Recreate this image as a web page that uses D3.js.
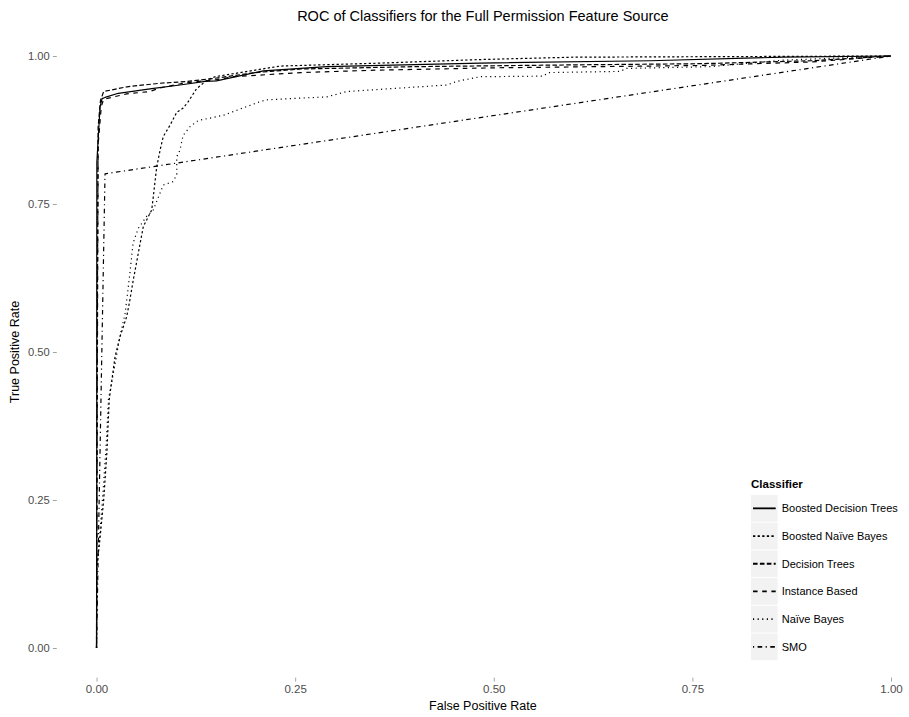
<!DOCTYPE html>
<html>
<head>
<meta charset="utf-8">
<script src="https://cdn.jsdelivr.net/npm/d3@7"></script>
<style>
  html, body { margin: 0; padding: 0; background: #fff; }
  svg { display: block; font-family: "Liberation Sans", Arial, Helvetica, sans-serif; }
</style>
</head>
<body>
<svg id="chart" width="909" height="717"></svg>
<script>
// ROC points (false positive rate, true positive rate) per classifier
const boostedDecisionTrees = [
  [0, 0], [0.0003, 0.30], [0.0003, 0.60], [0.0004, 0.82], [0.0044, 0.914], [0.007, 0.928],
  [0.0107, 0.930], [0.0274, 0.937], [0.0695, 0.945], [0.105, 0.951], [0.137, 0.957],
  [0.151, 0.958], [0.21, 0.975], [0.29, 0.982], [0.483, 0.988], [0.697, 0.992],
  [0.864, 0.998], [1, 1]
];
const boostedNaiveBayes = [
  [0, 0], [0.0005, 0.14], [0.004, 0.18], [0.009, 0.25], [0.013, 0.33], [0.016, 0.42],
  [0.0233, 0.492], [0.0296, 0.526], [0.038, 0.560], [0.042, 0.588], [0.0463, 0.622],
  [0.0526, 0.667], [0.0589, 0.712], [0.0695, 0.740], [0.0758, 0.813], [0.080, 0.841],
  [0.084, 0.864], [0.0925, 0.883], [0.101, 0.905], [0.109, 0.912], [0.1155, 0.923],
  [0.126, 0.945], [0.139, 0.959], [0.149, 0.965], [0.231, 0.983], [0.357, 0.988],
  [0.483, 0.994], [0.60, 0.998], [0.80, 0.999], [1, 1]
];
const decisionTrees = [
  [0, 0], [0.0008, 0.50], [0.002, 0.88], [0.005, 0.925], [0.009, 0.940], [0.0385, 0.948],
  [0.08, 0.954], [0.114, 0.957], [0.147, 0.962], [0.20, 0.972], [0.257, 0.978],
  [0.40, 0.982], [0.60, 0.985], [0.76, 0.987], [0.90, 0.992], [1, 1]
];
const instanceBased = [
  [0, 0], [0.0010, 0.45], [0.002, 0.85], [0.006, 0.915], [0.009, 0.927], [0.038, 0.936],
  [0.067, 0.940], [0.080, 0.946], [0.113, 0.955], [0.151, 0.960], [0.172, 0.965],
  [0.257, 0.972], [0.35, 0.976], [0.50, 0.980], [0.76, 0.984], [0.90, 0.990], [1, 1]
];
const naiveBayes = [
  [0, 0], [0.0005, 0.13], [0.004, 0.19], [0.008, 0.26], [0.012, 0.34], [0.015, 0.42],
  [0.022, 0.47], [0.030, 0.53], [0.036, 0.565], [0.042, 0.633], [0.046, 0.684],
  [0.0526, 0.709], [0.063, 0.729], [0.0715, 0.740], [0.078, 0.762], [0.084, 0.782],
  [0.0967, 0.788], [0.101, 0.800], [0.101, 0.830], [0.105, 0.841], [0.109, 0.866],
  [0.118, 0.881], [0.128, 0.891], [0.160, 0.900], [0.206, 0.923], [0.214, 0.926],
  [0.290, 0.931], [0.315, 0.940], [0.441, 0.951], [0.453, 0.957], [0.483, 0.965],
  [0.562, 0.966], [0.569, 0.972], [0.659, 0.974], [0.667, 0.979], [0.772, 0.982],
  [0.864, 0.993], [1, 1]
];
const smo = [[0, 0], [0.0107, 0.801], [1, 1]];

const classifierNames = ["Boosted Decision Trees", "Boosted Naïve Bayes", "Decision Trees",
  "Instance Based", "Naïve Bayes", "SMO"];
const classifierSeries = [boostedDecisionTrees, boostedNaiveBayes, decisionTrees,
  instanceBased, naiveBayes, smo];
const tickValues = [0, 0.25, 0.5, 0.75, 1];
const tickLabels = ["0.00", "0.25", "0.50", "0.75", "1.00"];

// ggplot-style linetypes: solid, 22, 42, 44, 13, 1343 (in line-width units)
const unit = 1.15;
const dashPatterns = [null, [2, 2], [4, 2], [4, 4], [1, 3], [1, 3, 4, 3]]
  .map(p => p ? p.map(v => v * unit).join(",") : null);

const svg = d3.select("#chart");

// Data range padded by 5% on each side, like a default continuous scale
const x = d3.scale = d3.scaleLinear().domain([-0.05, 1.05]).range([56.8, 56.8 + 794.5 * 1.1]);
const y = d3.scaleLinear().domain([-0.05, 1.05]).range([677.6, 677.6 - 592 * 1.1]);

const panelLeft = x(-0.05), panelBottom = y(-0.05), panelTop = y(1.05);
const panelCenterX = (panelLeft + 909) / 2;

// Title
svg.append("text")
  .attr("x", panelCenterX).attr("y", 21)
  .attr("text-anchor", "middle")
  .attr("font-size", 14.5).attr("fill", "#000")
  .text("ROC of Classifiers for the Full Permission Feature Source");

// Axes (tick marks and labels only)
const xAxis = d3.axisBottom(x).tickValues(tickValues)
  .tickFormat((d, i) => tickLabels[i]).tickSize(4).tickPadding(3);
const gx = svg.append("g").attr("transform", `translate(0,${panelBottom})`).call(xAxis);
gx.select(".domain").remove();
gx.selectAll("line").attr("stroke", "#a6a6a6").attr("stroke-width", 1);
gx.selectAll("text").attr("fill", "#4d4d4d").attr("font-size", 11.5)
  .attr("font-family", "Liberation Sans, Arial, sans-serif");

const yAxis = d3.axisLeft(y).tickValues(tickValues)
  .tickFormat((d, i) => tickLabels[i]).tickSize(4).tickPadding(3);
const gy = svg.append("g").attr("transform", `translate(${panelLeft},0)`).call(yAxis);
gy.select(".domain").remove();
gy.selectAll("line").attr("stroke", "#a6a6a6").attr("stroke-width", 1);
gy.selectAll("text").attr("fill", "#4d4d4d").attr("font-size", 11.2)
  .attr("font-family", "Liberation Sans, Arial, sans-serif");

// Axis titles
svg.append("text")
  .attr("x", panelCenterX).attr("y", 710)
  .attr("text-anchor", "middle").attr("font-size", 12.5).attr("fill", "#000")
  .text("False Positive Rate");
svg.append("text")
  .attr("transform", `translate(19,${(panelTop + panelBottom) / 2}) rotate(-90)`)
  .attr("text-anchor", "middle").attr("font-size", 12.5).attr("fill", "#000")
  .text("True Positive Rate");

// ROC curves
const line = d3.line().x(d => x(d[0])).y(d => y(d[1]));
const curves = svg.append("g").attr("fill", "none").attr("stroke", "#000")
  .attr("stroke-width", 1.2).attr("stroke-linejoin", "round");
classifierSeries.forEach((series, i) => {
  const p = curves.append("path").datum(series).attr("d", line);
  if (dashPatterns[i]) p.attr("stroke-dasharray", dashPatterns[i]);
});

// Legend
const legend = svg.append("g").attr("transform", "translate(751,0)");
legend.append("text")
  .attr("x", 0).attr("y", 488)
  .attr("font-size", 11.5).attr("font-weight", "bold").attr("fill", "#000")
  .text("Classifier");
const keyTop = 495, keyStep = 27.7, keySize = 26.7;
classifierNames.forEach((name, i) => {
  const top = keyTop + i * keyStep;
  const cy = top + keySize / 2;
  legend.append("rect")
    .attr("x", 0).attr("y", top).attr("width", 26.7).attr("height", keySize)
    .attr("fill", "#f2f2f2");
  const seg = legend.append("line")
    .attr("x1", 2).attr("x2", 24.7).attr("y1", cy).attr("y2", cy)
    .attr("stroke", "#000").attr("stroke-width", 1.8);
  if (dashPatterns[i]) seg.attr("stroke-dasharray", dashPatterns[i]);
  legend.append("text")
    .attr("x", 30.7).attr("y", cy).attr("dy", "0.35em")
    .attr("font-size", 11).attr("fill", "#000")
    .text(name);
});
</script>
</body>
</html>
